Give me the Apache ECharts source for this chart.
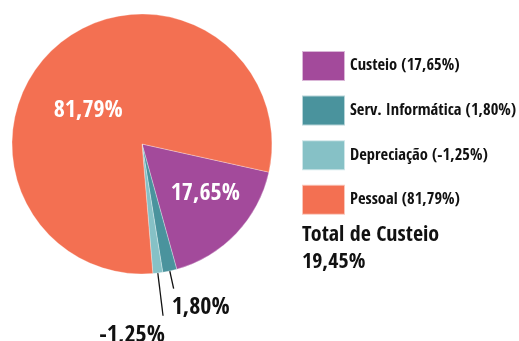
<!DOCTYPE html>
<html>
<head>
<meta charset="utf-8">
<script src="https://cdn.jsdelivr.net/npm/echarts@6/dist/echarts.min.js"></script>
<style>
  html, body { margin: 0; padding: 0; background: #fff; }
  #chart { width: 519px; height: 341px; }
</style>
</head>
<body>
<div id="chart"></div>
<script>
// Cost breakdown shares (percent)
const categories = ['Custeio', 'Serv. Informática', 'Depreciação', 'Pessoal'];
const shares = [17.65, 1.80, -1.25, 81.79];
const colors = ['#A34A9B', '#4A939D', '#86C1C6', '#F37052'];
const totalLabel = 'Total de Custeio';
const totalValue = 19.45;

const FONT = '"Open Sans Condensed", "Roboto Condensed", sans-serif';
const fmt = v => v.toFixed(2).replace('.', ',') + '%';

// Inside labels for the two large slices, outside labels with leader lines for the thin ones
const labelCfg = [
  { position: 'inside', offset: [14, 3], color: '#fff' },
  { position: 'outside', color: '#111' },
  { position: 'outside', color: '#111' },
  { position: 'inside', offset: [-9, 18], color: '#fff' }
];
const lineLen = [0, 18, 43, 0];

const data = categories.map((name, i) => ({
  name: name,
  value: Math.abs(shares[i]),
  itemStyle: { color: colors[i] },
  label: {
    show: true,
    position: labelCfg[i].position,
    offset: labelCfg[i].offset,
    color: labelCfg[i].color,
    fontFamily: FONT,
    fontWeight: 'bold',
    fontSize: 24,
    formatter: () => fmt(shares[i])
  },
  labelLine: {
    show: lineLen[i] > 0,
    length: lineLen[i],
    length2: 0,
    lineStyle: { color: '#111', width: 1.3 }
  }
}));

const chart = echarts.init(document.getElementById('chart'), null, { renderer: 'canvas' });
chart.setOption({
  animation: false,
  title: {
    text: totalLabel + '\n' + fmt(totalValue),
    left: 302,
    top: 222,
    padding: 0,
    textStyle: {
      fontFamily: FONT,
      fontWeight: 'bold',
      fontSize: 22,
      lineHeight: 27,
      color: '#111'
    }
  },
  legend: {
    orient: 'vertical',
    left: 301,
    top: 50,
    padding: 0,
    itemWidth: 43,
    itemHeight: 30,
    itemGap: 12.6,
    icon: 'rect',
    selectedMode: false,
    data: categories,
    formatter: name => {
      const i = categories.indexOf(name);
      return name + ' (' + fmt(shares[i]) + ')';
    },
    textStyle: {
      fontFamily: FONT,
      fontWeight: 'bold',
      fontSize: 16.5,
      color: '#111'
    }
  },
  series: [{
    type: 'pie',
    center: [142, 144],
    radius: 130,
    startAngle: -12.5,
    clockwise: true,
    avoidLabelOverlap: false,
    silent: true,
    itemStyle: { borderColor: 'rgba(255,255,255,0.6)', borderWidth: 0.5 },
    labelLayout: function (params) {
      const pts = params.labelLinePoints;
      if (!pts) return {};
      const end = pts[pts.length - 1];
      if (params.dataIndex === 1) {
        return { x: end[0] - 2, y: end[1] + 19, align: 'left', verticalAlign: 'middle', labelLinePoints: pts };
      }
      if (params.dataIndex === 2) {
        return { x: end[0] - 31, y: end[1] + 20, align: 'center', verticalAlign: 'middle', labelLinePoints: pts };
      }
      return {};
    },
    data: data
  }]
});
</script>
</body>
</html>
